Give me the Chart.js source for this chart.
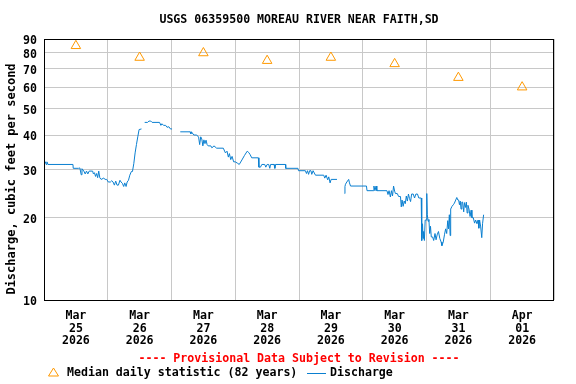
<!DOCTYPE html>
<html>
<head>
<meta charset="utf-8">
<script src="https://cdn.jsdelivr.net/npm/chart.js@4"></script>
<style>
  body { margin: 0; background: #fff; }
  canvas { display: block; }
</style>
</head>
<body>
<canvas id="chart" width="576" height="384"></canvas>
<script>
// Tick labels (one per day, shown at noon)
const dayLabels = [
  ['Mar', '25', '2026'], ['Mar', '26', '2026'], ['Mar', '27', '2026'], ['Mar', '28', '2026'],
  ['Mar', '29', '2026'], ['Mar', '30', '2026'], ['Mar', '31', '2026'], ['Apr', '01', '2026']
];
const yTicks = [10, 20, 30, 40, 50, 60, 70, 80, 90];

// Median daily statistic (82 years), one per day at noon
const medianDays = [0.5, 1.5, 2.5, 3.5, 4.5, 5.5, 6.5, 7.5];
const medianCfs = [85, 77, 80, 75, 77, 73, 65, 60];

// Discharge, hours since Mar 25 00:00 (null = gap in record)
const dischargeHours = [
  0, 0.5, 0.8, 1.1, 1.5, 10.9, 11.0, 13.0, 13.5, 14.0, 14.3, 15.0, 15.5, 16.0, 16.5, 17.0,
  18.3, 18.6, 19.0, 19.4, 19.8, 20.2, 20.6, 21.0, 21.5, 22.5, 23.0, 23.6, 24.2, 25.0, 25.5, 26.0,
  26.5, 27.0, 27.5, 28.0, 28.6, 29.0, 29.5, 30.0, 30.4, 30.9, 31.3, 31.8, 32.3, 32.9, 33.3, 33.8,
  34.3, 34.8, 35.3, 35.8, 36.7, 37.3, 37.9, 39.0, 39.5, 40.2, 40.7, 43.5, 44.0, 44.4, 45.0, 45.8,
  46.3, 47.0, 47.6, 48.2, 49.0, 51.3, 55.0, 55.3, 55.5, 56.4, 57.5, 58.2, 58.6, 59.0, 59.4, 59.8,
  60.2, 60.6, 61.0, 61.4, 61.8, 62.8, 63.2, 64.0, 65.0, 67.5, 68.3, 68.9, 69.4, 69.8, 70.3, 70.8,
  71.4, 72.0, 72.9, 73.5, 74.5, 75.5, 76.5, 77.1, 77.6, 78.2, 80.7, 80.9, 81.5, 82.0, 83.1, 83.5,
  84.0, 84.6, 85.0, 85.3, 86.6, 86.9, 87.2, 90.9, 91.0, 95.6, 95.8, 98.4, 98.8, 99.2, 99.6, 100.0,
  100.5, 100.8, 101.3, 102.2, 105.3, 105.7, 106.2, 106.8, 107.2, 107.7, 108.1, 110.3, 111.5, 113.2, 113.3, 113.5,
  114.0, 114.7, 115.0, 115.4, 121.4, 121.6, 124.0, 124.2, 124.6, 125.0, 125.3, 129.1, 129.5, 129.9, 130.4, 130.8,
  131.2, 131.6, 132.0, 132.3, 133.0, 133.5, 134.2, 134.5, 134.8, 135.2, 135.6, 136.0, 136.4, 136.8, 137.2, 137.6,
  138.0, 138.4, 139.0, 139.5, 140.0, 140.6, 141.1, 142.0, 142.1, 142.3, 142.5, 142.7, 142.9, 143.2, 143.5, 143.9,
  144.1, 144.3, 144.6, 144.9, 145.2, 145.5, 145.8, 146.3, 146.7, 147.2, 147.6, 148.0, 148.5, 149.0, 149.5, 149.8,
  150.3, 150.8, 151.2, 151.6, 152.0, 152.3, 152.6, 152.9, 153.1, 153.6, 154.1, 154.5, 155.0, 155.4, 155.8, 156.1,
  156.4, 156.7, 157.0, 157.3, 157.6, 158.0, 158.3, 158.7, 159.0, 159.3, 159.6, 160.0, 160.4, 160.8, 161.1, 161.6,
  162.1, 162.5, 163.0, 163.4, 163.7, 164.0, 164.4, 164.8, 165.1, 165.5
];
const dischargeCfs = [
  32.0, 32.0, 31.3, 32.0, 31.3, 31.3, 30.3, 30.3, 30.4, 28.7, 30.2, 29.6, 28.9, 29.6, 28.9, 29.6,
  29.6, 28.9, 29.2, 28.3, 29.0, 28.0, 29.6, 28.0, 27.6, 27.9, 27.6, 27.6, 27.0, 27.0, 27.3, 27.0,
  26.3, 27.2, 26.3, 26.3, 27.4, 27.0, 26.7, 26.0, 26.8, 26.0, 27.0, 27.4, 28.6, 29.5, 29.5, 31.5,
  34.5, 37.0, 39.5, 42.0, 42.2, null, 44.6, 44.6, 45.1, 45.1, 44.6, 44.6, 43.5, 44.1, 43.5, 43.5,
  42.8, 43.0, 42.2, 42.2, null, 41.2, 41.2, 40.5, 41.2, 40.1, 40.1, 39.4, 37.0, 39.5, 38.8, 36.6,
  38.5, 37.3, 38.4, 37.0, 36.6, 36.6, 36.0, 36.6, 35.9, 35.9, 34.5, 35.0, 33.3, 34.3, 32.6, 33.5,
  32.0, 32.0, 31.6, 31.3, 32.5, 33.8, 35.0, 34.6, 34.0, 33.1, 33.1, 30.6, 30.6, 31.3, 31.3, 30.6,
  31.3, 31.3, 30.3, 31.3, 31.3, 30.3, 31.3, 31.3, 30.3, 30.3, 29.7, 29.7, 29.0, 29.7, 28.8, 29.7,
  29.7, 28.8, 29.7, 28.6, 28.6, 27.9, 28.6, 27.5, 28.2, 26.8, 27.6, 27.6, null, 24.5, 26.0, 26.5,
  27.0, 27.6, 26.8, 26.1, 26.1, 25.1, 25.1, 26.1, 25.1, 26.1, 25.1, 25.1, 24.3, 25.1, 23.8, 25.1,
  24.0, 26.1, 25.0, 24.5, 24.5, 23.9, 23.9, 21.9, 23.2, 22.0, 23.0, 22.5, 24.0, 23.0, 24.4, 23.5,
  22.9, 24.4, 24.4, 23.6, 24.4, 24.4, 23.6, 23.6, 18.0, 16.5, 19.0, 16.8, 17.8, 16.5, 19.6, 19.6,
  24.5, 20.5, 19.4, 19.7, 17.5, 18.6, 17.0, 17.0, 16.5, 17.5, 16.6, 17.3, 17.8, 16.8, 16.3, 15.8,
  16.3, 17.4, 18.2, 17.5, 19.5, 18.2, 20.5, 17.2, 21.5, 22.0, 22.3, 22.6, 23.2, 23.7, 23.2, 23.2,
  22.3, 23.0, 21.5, 22.8, 22.8, 21.0, 22.7, 21.8, 22.8, 20.8, 22.2, 21.5, 20.2, 21.3, 20.0, 20.0,
  19.1, 19.6, 19.0, 19.6, 18.3, 19.6, 18.5, 16.9, 19.0, 20.5
];

const FONT_FAMILY = "'DejaVu Sans Mono', 'Liberation Mono', monospace";
const tickFont = { family: FONT_FAMILY, size: 11.6, weight: 'bold', lineHeight: 1.12 };
const GRID = '#c8c8c8';
const BLUE = '#0a7fd0';
const ORANGE = '#ff9900';

// frame, titles, provisional note and legend
const decorations = {
  id: 'decorations',
  afterDraw(chart) {
    const ctx = chart.ctx;
    const area = chart.chartArea;
    const midX = (area.left + area.right) / 2;
    ctx.save();
    ctx.strokeStyle = '#000';
    ctx.lineWidth = 1;
    ctx.strokeRect(Math.round(area.left) + 0.5, Math.round(area.top) + 0.5,
      Math.round(area.right - area.left) - 1, Math.round(area.bottom - area.top));

    ctx.font = "bold 11.6px " + FONT_FAMILY;
    ctx.textBaseline = 'middle';
    ctx.textAlign = 'center';
    ctx.fillStyle = '#000';
    ctx.fillText('USGS 06359500 MOREAU RIVER NEAR FAITH,SD', midX, 20);

    // y axis title
    ctx.save();
    ctx.translate(12, 179);
    ctx.rotate(-Math.PI / 2);
    ctx.font = "bold 12px " + FONT_FAMILY;
    ctx.fillText('Discharge, cubic feet per second', 0, 0);
    ctx.restore();

    ctx.fillStyle = '#ff0000';
    ctx.fillText('---- Provisional Data Subject to Revision ----', midX, 359);

    // legend
    const ly = 373;
    ctx.strokeStyle = ORANGE;
    ctx.beginPath();
    ctx.moveTo(53.5, ly - 5);
    ctx.lineTo(48.5, ly + 3);
    ctx.lineTo(58.5, ly + 3);
    ctx.closePath();
    ctx.stroke();
    ctx.textAlign = 'left';
    ctx.fillStyle = '#000';
    ctx.fillText('Median daily statistic (82 years)', 67, ly);
    ctx.strokeStyle = BLUE;
    ctx.beginPath();
    ctx.moveTo(307, ly + 0.5);
    ctx.lineTo(326, ly + 0.5);
    ctx.stroke();
    ctx.fillText('Discharge', 330, ly);
    ctx.restore();
  }
};

const ctx = document.getElementById('chart').getContext('2d');
new Chart(ctx, {
  type: 'line',
  data: {
    datasets: [
      {
        label: 'Median daily statistic (82 years)',
        data: medianDays.map((d, i) => ({ x: d, y: medianCfs[i] })),
        showLine: false,
        pointStyle: 'triangle',
        pointRadius: 5.5,
        pointBorderWidth: 1,
        pointBorderColor: ORANGE,
        pointBackgroundColor: 'rgba(255,255,255,0)',
        borderColor: ORANGE
      },
      {
        label: 'Discharge',
        data: dischargeHours.map((h, i) => ({ x: h / 24, y: dischargeCfs[i] })),
        borderColor: BLUE,
        borderWidth: 1,
        pointRadius: 0,
        tension: 0,
        spanGaps: false
      }
    ]
  },
  options: {
    responsive: false,
    animation: false,
    layout: { padding: { top: 39, right: 22, left: 0, bottom: 0 } },
    plugins: {
      legend: { display: false },
      title: { display: false },
      tooltip: { enabled: false }
    },
    scales: {
      x: {
        type: 'linear',
        min: 0,
        max: 8,
        afterBuildTicks: s => { s.ticks = dayLabels.map((l, i) => ({ value: i + 0.5 })); },
        afterFit: s => { s.height = 84; },
        ticks: {
          callback: (v, i) => dayLabels[i],
          autoSkip: false,
          maxRotation: 0,
          font: tickFont,
          color: '#000',
          padding: 9
        },
        grid: { offset: true, color: GRID, drawTicks: false },
        border: { display: false }
      },
      y: {
        type: 'logarithmic',
        min: 10,
        max: 90,
        afterBuildTicks: s => { s.ticks = yTicks.map(v => ({ value: v })); },
        afterFit: s => { s.width = 44; },
        ticks: {
          callback: v => String(v),
          autoSkip: false,
          font: tickFont,
          color: '#000',
          padding: 7,
          labelOffset: 2
        },
        grid: { color: GRID, drawTicks: false },
        border: { display: false }
      }
    }
  },
  plugins: [decorations]
});
</script>
</body>
</html>
